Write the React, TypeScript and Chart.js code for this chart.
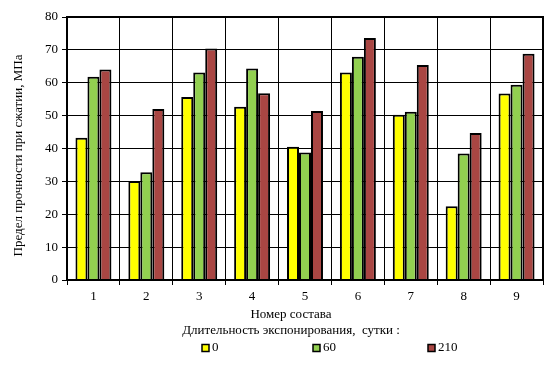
import React, { useEffect, useRef } from "react";
import { Chart, registerables } from "chart.js";

Chart.register(...registerables);

const categories = ["1", "2", "3", "4", "5", "6", "7", "8", "9"];
const seriesLabels = ["0", "60", "210"];
const values0 = [43.3, 30.1, 55.7, 52.7, 40.5, 63.1, 50.3, 22.4, 56.7];
const values60 = [61.8, 32.8, 63.1, 64.3, 38.8, 67.9, 51.2, 38.5, 59.4];
const values210 = [64.0, 52.0, 70.4, 56.8, 51.4, 73.6, 65.4, 44.7, 68.8];
const seriesColors = ["#FFFF00", "#92D050", "#A94643"];
const yTitle = "Предел прочности при сжатии, МПа";
const xTitle = "Номер состава";
const legendTitle = "Длительность экспонирования,  сутки :";

const FONT = '"Liberation Serif", "Times New Roman", serif';

const decorPlugin = {
  id: "decor",
  afterDraw(chart: any) {
    const ctx = chart.ctx;
    const a = chart.chartArea;
    ctx.save();
    ctx.strokeStyle = "#000";
    ctx.lineWidth = 2;
    ctx.strokeRect(a.left, a.top, a.right - a.left, a.bottom - a.top);
    ctx.fillStyle = "#000";
    ctx.save();
    ctx.font = `13px ${FONT}`;
    ctx.translate(19, (a.top + a.bottom) / 2 + 7);
    ctx.rotate(-Math.PI / 2);
    ctx.textAlign = "center";
    ctx.textBaseline = "middle";
    ctx.fillText(yTitle, 0, 0);
    ctx.restore();
    const cx = (a.left + a.right) / 2 - 14;
    ctx.font = `13px ${FONT}`;
    ctx.textAlign = "center";
    ctx.textBaseline = "middle";
    ctx.fillText(xTitle, cx, a.bottom + 35);
    ctx.fillText(legendTitle, cx, a.bottom + 51);
    const starts = [202, 313, 428];
    const ly = a.bottom + 68;
    chart.data.datasets.forEach((ds: any, i: number) => {
      const x = starts[i];
      ctx.fillStyle = ds.backgroundColor;
      ctx.fillRect(x, ly - 3.5, 7, 7);
      ctx.strokeStyle = "#000";
      ctx.lineWidth = 1.5;
      ctx.strokeRect(x, ly - 3.5, 7, 7);
      ctx.fillStyle = "#000";
      ctx.textAlign = "left";
      ctx.fillText(ds.label, x + 10, ly);
    });
    ctx.restore();
  },
};

export default function App() {
  const ref = useRef<HTMLCanvasElement>(null);
  useEffect(() => {
    const allValues = [values0, values60, values210];
    const chart = new Chart(ref.current!, {
      type: "bar",
      data: {
        labels: categories,
        datasets: seriesLabels.map((l, i) => ({
          label: l,
          data: allValues[i],
          backgroundColor: seriesColors[i],
          borderColor: "#000",
          borderWidth: 2,
          barPercentage: 1,
          categoryPercentage: 0.68,
        })),
      },
      options: {
        animation: false,
        responsive: false,
        maintainAspectRatio: false,
        layout: { padding: { top: 17, right: 7, left: 0, bottom: 0 } },
        plugins: { legend: { display: false }, tooltip: { enabled: false } },
        scales: {
          x: {
            grid: { color: "#000", lineWidth: 1, tickLength: 5, offset: true },
            border: { color: "#000", width: 2 },
            ticks: { color: "#000", font: { family: FONT, size: 13 }, padding: 4 },
            afterFit: (s: any) => {
              s.height = 88;
            },
          },
          y: {
            min: 0,
            max: 80,
            ticks: { stepSize: 10, color: "#000", font: { family: FONT, size: 13 }, padding: 4 },
            grid: { color: "#000", lineWidth: 1, tickLength: 5 },
            border: { color: "#000", width: 2 },
            afterFit: (s: any) => {
              s.width = 67;
            },
          },
        },
      },
      plugins: [decorPlugin],
    });
    return () => chart.destroy();
  }, []);
  return (
    <div style={{ position: "fixed", left: 0, top: 0, width: 550, height: 368, background: "#fff" }}>
      <canvas ref={ref} width={550} height={368} style={{ width: 550, height: 368 }} />
    </div>
  );
}
